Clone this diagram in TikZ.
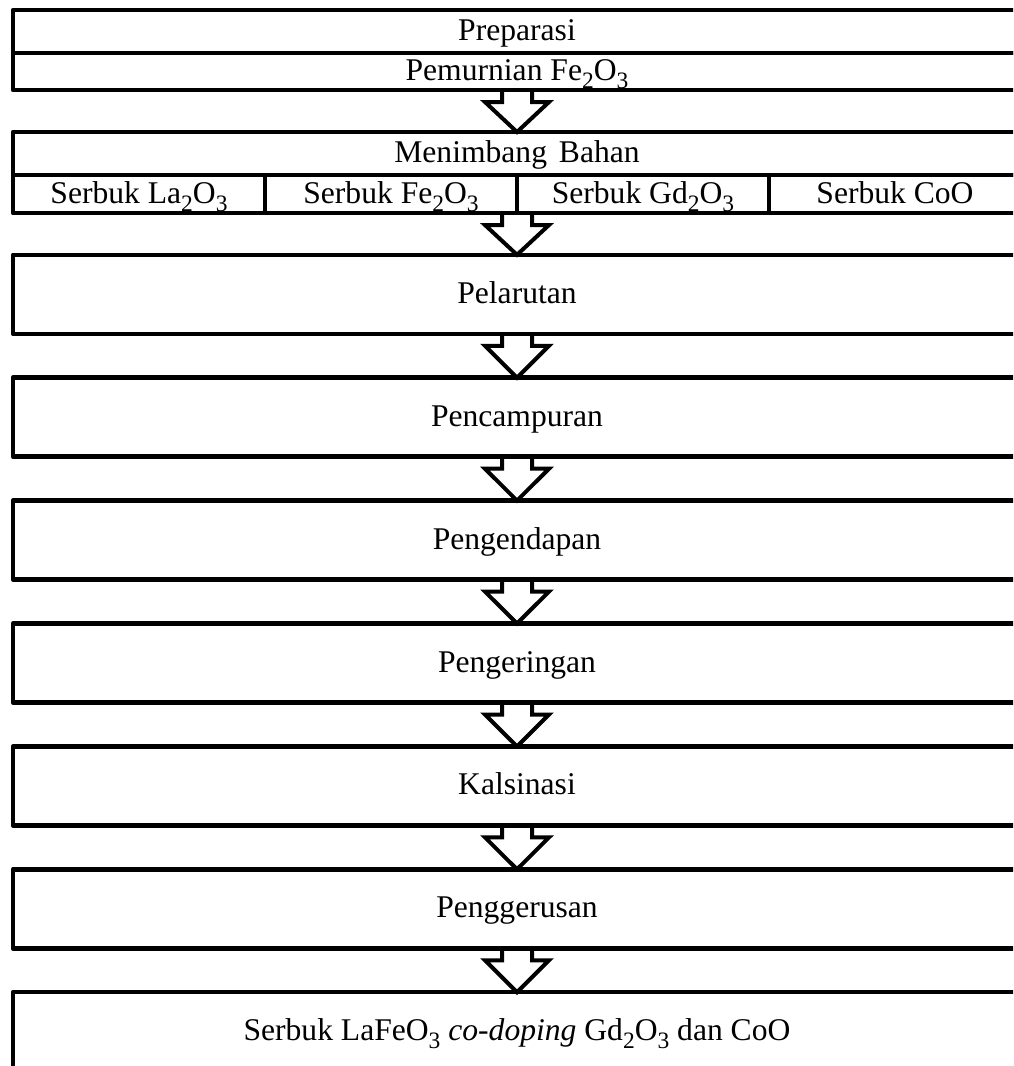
\documentclass[tikz,border=0pt]{standalone}
\usepackage{fontspec}
\setmainfont{Liberation Serif}
\usetikzlibrary{calc}
\newcommand\sbs[1]{\raisebox{-8pt}{\fontsize{23.5}{24}\selectfont #1}}
\newcommand\barrow[2]{\draw[arr] ($(#1)+(-15,0)$) |- ($(#1)+(-32,12)$) -- (#2) -- ($(#1)+(32,12)$) -| ($(#1)+(15,0)$);}
\begin{document}
\begin{tikzpicture}[x=1pt,y=-1pt,
  box/.style={draw, rectangle, line width=4.5pt, line join=round, minimum width=1008pt,
    inner sep=0pt, outer sep=0pt, text height=23pt, text depth=5pt,
    font=\fontsize{31.6}{36}\selectfont},
  cell/.style={box, minimum width=252pt},
  arr/.style={draw, line width=4pt, line join=miter}]
\useasboundingbox (0,0) rectangle (1013,1066);
\clip (0,0) rectangle (1013,1066);
% box 1
\node[box, minimum height=43pt] (b1a) at (517,31.5) {Preparasi};
\node[box, minimum height=37pt] (b1b) at (517,71.5) {Pemurnian Fe\sbs{2}O\sbs{3}};
% box 2
\node[box, minimum height=43pt] (b2a) at (517,153.5) {Menimbang\hspace{4pt} Bahan};
\node[cell, minimum height=38pt] (c1) at (139,194) {Serbuk La\sbs{2}O\sbs{3}};
\node[cell, minimum height=38pt] (c2) at (391,194) {Serbuk Fe\sbs{2}O\sbs{3}};
\node[cell, minimum height=38pt] (c3) at (643,194) {Serbuk Gd\sbs{2}O\sbs{3}};
\node[cell, minimum height=38pt] (c4) at (895,194) {Serbuk CoO};
% process boxes
\node[box, minimum height=79pt] (s2) at (517,294.3) {Pelarutan};
\node[box, minimum height=79pt] (s3) at (517,417.2) {Pencampuran};
\node[box, minimum height=79pt] (s4) at (517,540.1) {Pengendapan};
\node[box, minimum height=79pt] (s5) at (517,663.0) {Pengeringan};
\node[box, minimum height=79pt] (s6) at (517,785.9) {Kalsinasi};
\node[box, minimum height=79pt] (s7) at (517,908.8) {Penggerusan};
\node[box, minimum height=79pt] (s8) at (517,1031.7) {Serbuk LaFeO\sbs{3} \textit{co-doping} Gd\sbs{2}O\sbs{3} dan CoO};
% arrows
\barrow{b1b.south}{b2a.north}
\barrow{c2.south east}{s2.north}
\barrow{s2.south}{s3.north}
\barrow{s3.south}{s4.north}
\barrow{s4.south}{s5.north}
\barrow{s5.south}{s6.north}
\barrow{s6.south}{s7.north}
\barrow{s7.south}{s8.north}
\end{tikzpicture}
\end{document}
